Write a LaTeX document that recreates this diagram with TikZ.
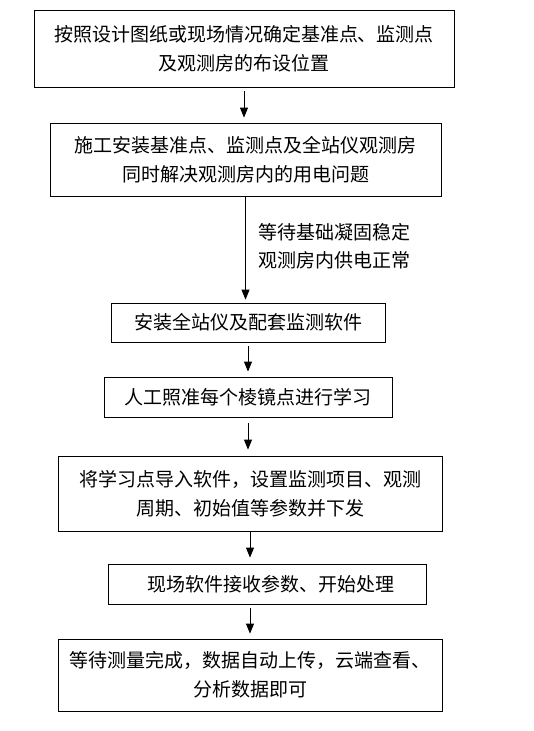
\documentclass[tikz,border=0pt]{standalone}
\usepackage{fontspec}
\newfontfamily\cjk{Noto Sans CJK SC}
\usetikzlibrary{arrows.meta}

\begin{document}
\begin{tikzpicture}[x=1pt,y=-1pt,
  box/.style={draw,line width=0.8pt,align=center,inner sep=0pt,
    font=\cjk\fontsize{19}{29}\selectfont},
  note/.style={align=left,inner sep=0pt,font=\cjk\fontsize{19}{28}\selectfont},
  arr/.style={line width=0.8pt,-{Triangle[length=10pt,width=8pt]}}]
  \useasboundingbox (0,0) rectangle (533,731);
  % steps
  \node[box,minimum width=420pt,minimum height=77pt] (b1) at (244,48.5)
    {按照设计图纸或现场情况确定基准点、监测点\\及观测房的布设位置};
  \node[box,minimum width=391pt,minimum height=73pt] (b2) at (245.5,159.5)
    {施工安装基准点、监测点及全站仪观测房\\同时解决观测房内的用电问题};
  \node[box,minimum width=274pt,minimum height=39pt] (b3) at (248,322.5)
    {安装全站仪及配套监测软件};
  \node[box,minimum width=288pt,minimum height=40pt] (b4) at (248,397)
    {人工照准每个棱镜点进行学习};
  \node[box,minimum width=384pt,minimum height=75pt] (b5) at (250,493.5)
    {将学习点导入软件，设置监测项目、观测\\周期、初始值等参数并下发};
  \node[box,minimum width=318pt,minimum height=40pt] (b6) at (267,584)
    {\hspace*{8pt}现场软件接收参数、开始处理};
  \node[box,minimum width=384pt,minimum height=72pt] (b7) at (250,675)
    {等待测量完成，数据自动上传，云端查看、\\分析数据即可};
  \node[note,anchor=west] (wait) at (258,246)
    {等待基础凝固稳定\\观测房内供电正常};
  % arrows
  \draw[arr,shorten <=4pt,shorten >=5pt] (b1) -- (b1 |- b2.north);
  \draw[arr,shorten >=3pt] (b2) -- (b2 |- b3.north);
  \draw[arr,shorten <=4pt,shorten >=5pt] (b3) -- (b3 |- b4.north);
  \draw[arr,shorten <=6pt,shorten >=6pt] (b4) -- (b4 |- b5.north);
  \draw[arr,shorten <=1pt,shorten >=6pt] (b5) -- (b5 |- b6.north);
  \draw[arr,shorten <=4pt,shorten >=5pt] (b6.south -| b7) -- (b7);
\end{tikzpicture}
\end{document}
